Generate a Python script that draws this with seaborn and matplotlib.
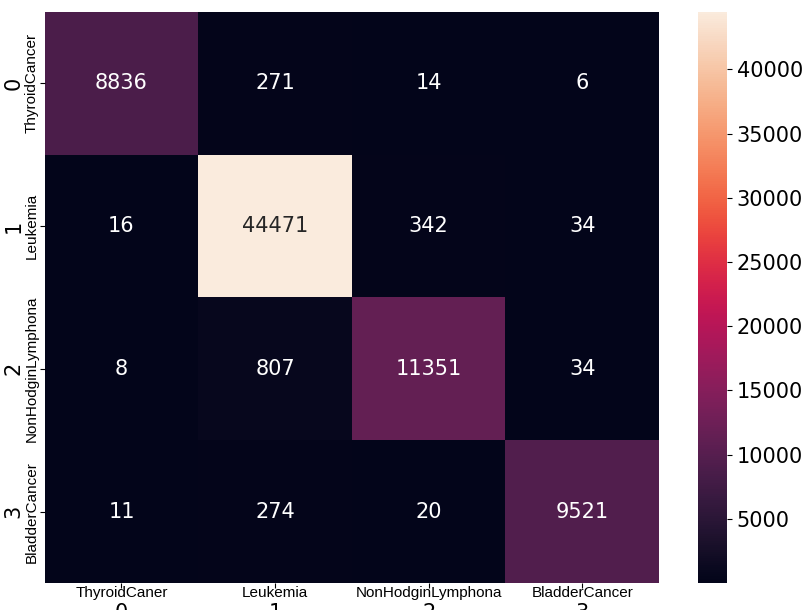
import numpy as np
import pandas as pd
import matplotlib
matplotlib.use("Agg")
import matplotlib.pyplot as plt
import seaborn as sns

classes = ["0", "1", "2", "3"]
x_names = ["ThyroidCaner", "Leukemia", "NonHodginLymphona", "BladderCancer"]
y_names = ["ThyroidCancer", "Leukemia", "NonHodginLymphona", "BladderCancer"]
row0 = [8836, 271, 14, 6]
row1 = [16, 44471, 342, 34]
row2 = [8, 807, 11351, 34]
row3 = [11, 274, 20, 9521]

cm = pd.DataFrame([row0, row1, row2, row3], index=classes, columns=classes)

fig = plt.figure(figsize=(8.11, 6.10), dpi=100)
ax = fig.add_axes([0.0551, 0.0443, 0.7575, 0.9361])
cax = fig.add_axes([0.8607, 0.0443, 0.0358, 0.9361])

sns.heatmap(cm, annot=True, fmt="d", ax=ax, cbar_ax=cax,
            annot_kws={"fontsize": 15})

ax.tick_params(axis="x", labelsize=15, pad=11)
ax.tick_params(axis="y", labelsize=15, pad=11.5)
ax.set_yticklabels(classes, rotation=90, va="center")
ax.set_xticklabels(classes, rotation=0)
cax.tick_params(labelsize=15)

for i, name in enumerate(x_names):
    ax.annotate(name, xy=(i + 0.5, 0), xycoords=("data", "axes fraction"),
                xytext=(0, -3), textcoords="offset pixels",
                ha="center", va="top", fontsize=11, family="Liberation Sans")
for i, name in enumerate(y_names):
    ax.annotate(name, xy=(0, i + 0.5), xycoords=("axes fraction", "data"),
                xytext=(-6, 0), textcoords="offset pixels",
                ha="right", va="center", rotation=90, fontsize=11,
                family="Liberation Sans")

fig.savefig("out.png", dpi=100)
